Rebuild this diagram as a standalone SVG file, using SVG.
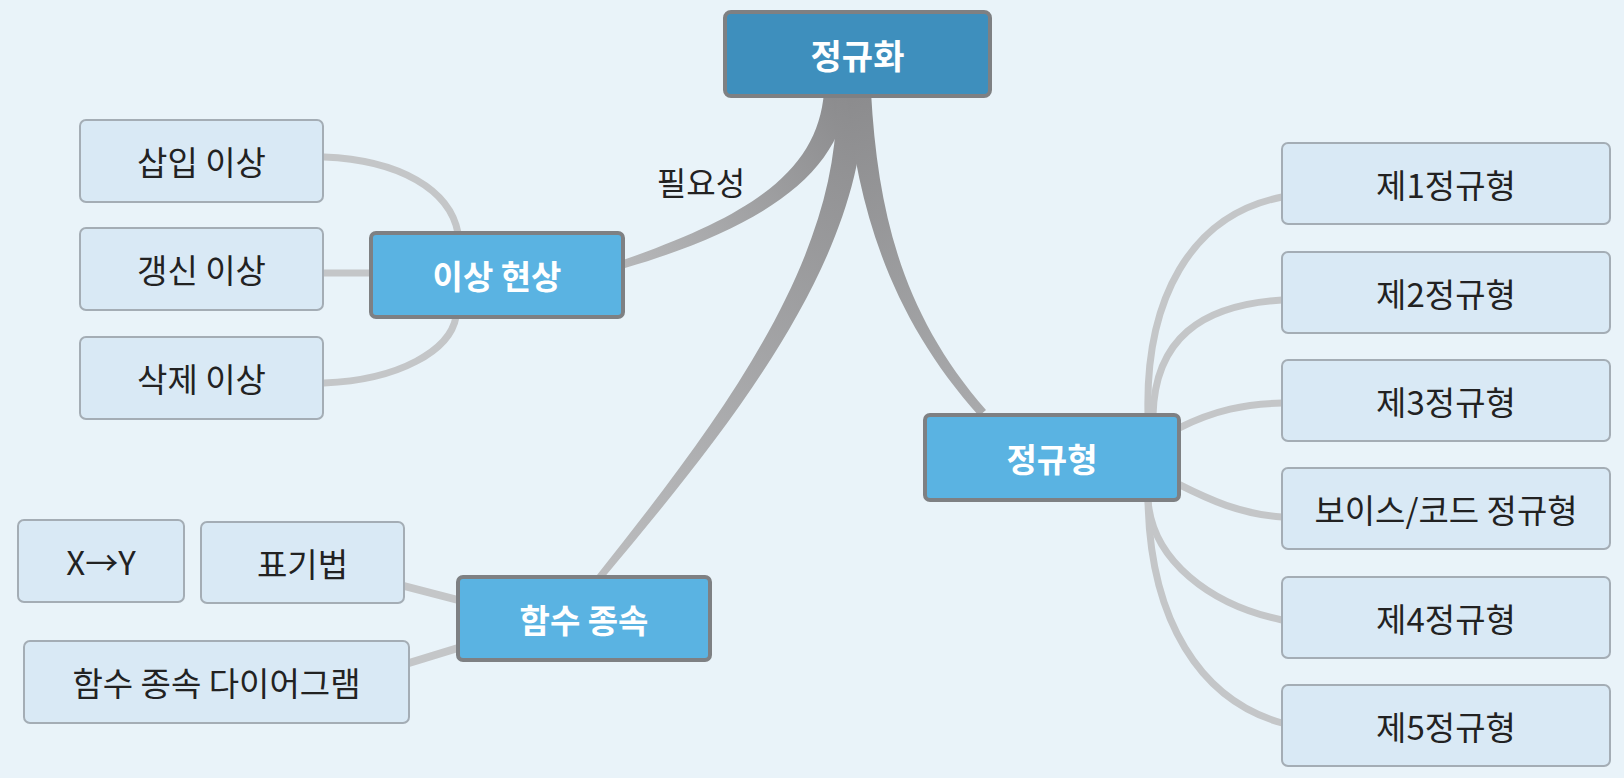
<svg xmlns="http://www.w3.org/2000/svg" width="1624" height="778" viewBox="0 0 1624 778">
<defs>
<style>
.bg{fill:#e9f3f9}
.child rect{fill:#d9e9f5;stroke:#a4adb5;stroke-width:2}
.child text{fill:#222;font-family:"Noto Sans CJK KR","Noto Sans",sans-serif;font-size:33px;text-anchor:middle;dominant-baseline:central}
.main rect{fill:#5ab3e2;stroke:#7e8083;stroke-width:4}
.main text{fill:#fff;font-family:"Noto Sans CJK KR","Noto Sans",sans-serif;font-size:33px;font-weight:bold;text-anchor:middle;dominant-baseline:central}
.root rect{fill:#3e8fbd;stroke:#7e8083;stroke-width:4}
.link{fill:none;stroke:#c4c6c8;stroke-width:7;stroke-linecap:round}
.label{fill:#222;font-family:"Noto Sans CJK KR","Noto Sans",sans-serif;font-size:32px;text-anchor:middle;dominant-baseline:central}
</style>
<linearGradient id="gA" gradientUnits="userSpaceOnUse" x1="836" y1="97" x2="624" y2="264"><stop offset="0" stop-color="#8c8c8e"/><stop offset="1" stop-color="#b6b7b9"/></linearGradient>
<linearGradient id="gB" gradientUnits="userSpaceOnUse" x1="850" y1="97" x2="600" y2="577"><stop offset="0" stop-color="#8c8c8e"/><stop offset="1" stop-color="#bcbdbf"/></linearGradient>
<linearGradient id="gC" gradientUnits="userSpaceOnUse" x1="858" y1="97" x2="982" y2="413"><stop offset="0" stop-color="#8c8c8e"/><stop offset="1" stop-color="#a9aaac"/></linearGradient>
</defs>
<rect class="bg" x="0" y="0" width="1624" height="778"/>
<g id="connectors">
<path d="M 848,92 C 842,172 765,227 625,268 L 623,260 C 757,214 818,168 824,92 Z" fill="url(#gA)"/>
<path d="M 864,92 C 867,261 724,434 603,579 L 597,575 C 715,426 844,259 836,92 Z" fill="url(#gB)"/>
<path d="M 871,92 C 878,219 905,317 986,410 L 979,416 C 896,323 859,221 846,92 Z" fill="url(#gC)"/>
<path class="link" d="M 324,157 C 400,160 450,190 458,233"/>
<path class="link" d="M 324,273 L 371,273"/>
<path class="link" d="M 324,383 C 400,380 450,350 456,317"/>
<path class="link" d="M 404,586 L 458,600" style="stroke-width:8"/>
<path class="link" d="M 409,663 L 458,648" style="stroke-width:8"/>
<path class="link" d="M 1148,415 C 1145,300 1190,215 1282,197"/>
<path class="link" d="M 1153,415 C 1155,340 1200,305 1282,300"/>
<path class="link" d="M 1179,428 C 1215,410 1245,404 1282,403"/>
<path class="link" d="M 1178,484 C 1210,500 1240,514 1282,517"/>
<path class="link" d="M 1148,500 C 1152,560 1210,605 1282,620"/>
<path class="link" d="M 1148,500 C 1150,620 1200,700 1282,723"/>
<text class="label" x="701" y="181">필요성</text>
</g>
<g id="n-root" class="main root"><rect x="725" y="12" width="265" height="84" rx="6"/><text x="857.5" y="54" style="font-size:34px">정규화</text></g>
<g id="n-anomaly" class="main"><rect x="371" y="233" width="252" height="84" rx="5"/><text x="497" y="275">이상 현상</text></g>
<g id="n-fd" class="main"><rect x="458" y="577" width="252" height="83" rx="5"/><text x="584" y="618.5">함수 종속</text></g>
<g id="n-nf" class="main"><rect x="925" y="415" width="254" height="85" rx="5"/><text x="1052" y="457.5">정규형</text></g>
<g id="n-insert" class="child"><rect x="80" y="120" width="243" height="82" rx="6"/><text x="201.5" y="161">삽입 이상</text></g>
<g id="n-update" class="child"><rect x="80" y="228" width="243" height="82" rx="6"/><text x="201.5" y="269">갱신 이상</text></g>
<g id="n-delete" class="child"><rect x="80" y="337" width="243" height="82" rx="6"/><text x="201.5" y="378">삭제 이상</text></g>
<g id="n-xy" class="child"><rect x="18" y="520" width="166" height="82" rx="6"/><text x="101" y="561">X→Y</text></g>
<g id="n-notation" class="child"><rect x="201" y="522" width="203" height="81" rx="6"/><text x="302.5" y="562.5">표기법</text></g>
<g id="n-diagram" class="child"><rect x="24" y="641" width="385" height="82" rx="6"/><text x="216.5" y="682">함수 종속 다이어그램</text></g>
<g id="n-1nf" class="child"><rect x="1282" y="143" width="328" height="81" rx="6"/><text x="1446" y="183.5">제1정규형</text></g>
<g id="n-2nf" class="child"><rect x="1282" y="252" width="328" height="81" rx="6"/><text x="1446" y="292.5">제2정규형</text></g>
<g id="n-3nf" class="child"><rect x="1282" y="360" width="328" height="81" rx="6"/><text x="1446" y="400.5">제3정규형</text></g>
<g id="n-bcnf" class="child"><rect x="1282" y="468" width="328" height="81" rx="6"/><text x="1446" y="508.5">보이스/코드 정규형</text></g>
<g id="n-4nf" class="child"><rect x="1282" y="577" width="328" height="81" rx="6"/><text x="1446" y="617.5">제4정규형</text></g>
<g id="n-5nf" class="child"><rect x="1282" y="685" width="328" height="81" rx="6"/><text x="1446" y="725.5">제5정규형</text></g>
</svg>
